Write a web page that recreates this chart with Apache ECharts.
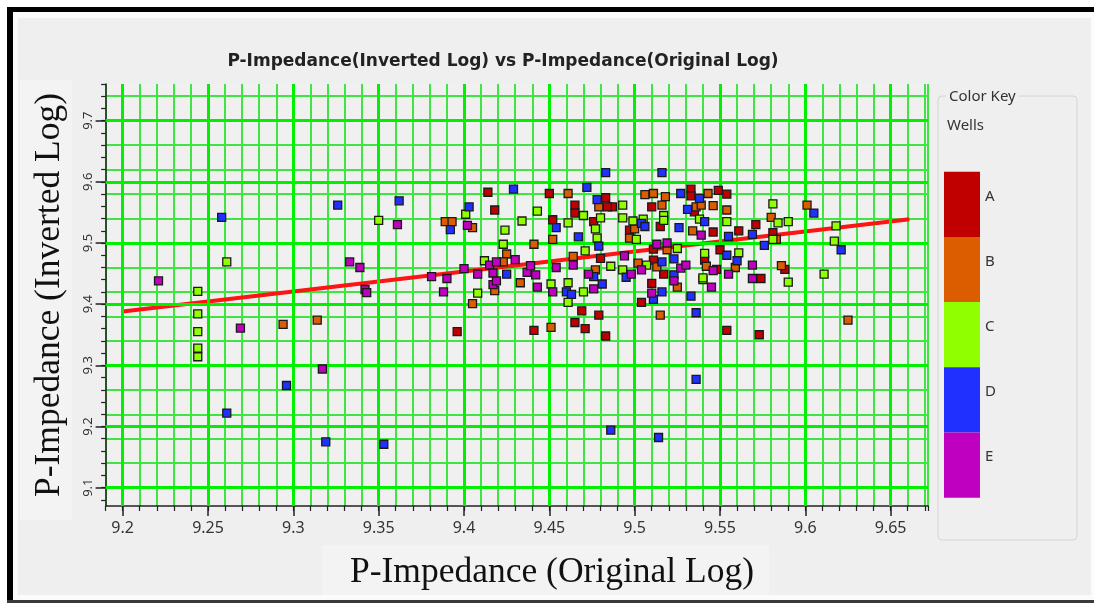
<!DOCTYPE html>
<html><head><meta charset="utf-8">
<script src="https://cdn.jsdelivr.net/npm/echarts@6/dist/echarts.min.js"></script>
<style>html,body{margin:0;padding:0;background:#fff}#c{width:1094px;height:603px}</style>
</head><body><div id="c"></div>
<script>
const chartTitle = 'P-Impedance(Inverted Log) vs P-Impedance(Original Log)';
const xTitle = 'P-Impedance (Original Log)';
const yTitle = 'P-Impedance (Inverted Log)';
const wells = ['A', 'B', 'C', 'D', 'E'];
const wellColors = ['#c00000', '#dc5c00', '#90ff00', '#2030ff', '#c000c0'];

const wellA = [[9.396,9.355],[9.469,9.389],[9.479,9.382],[9.465,9.370],[9.471,9.360],[9.483,9.348],[9.441,9.357],
  [9.510,9.434],[9.504,9.403],[9.554,9.357],[9.573,9.350],[9.533,9.588],[9.533,9.577],[9.549,9.586],[9.554,9.580],
  [9.510,9.559],[9.535,9.551],[9.515,9.527],[9.546,9.518],[9.561,9.520],[9.571,9.530],[9.581,9.517],[9.588,9.457],
  [9.574,9.442],[9.550,9.489],[9.541,9.472],[9.548,9.457],[9.414,9.583],[9.418,9.554],[9.450,9.581],[9.465,9.562],
  [9.465,9.549],[9.452,9.538],[9.483,9.574],[9.487,9.559],[9.484,9.559],[9.476,9.535],[9.497,9.521],[9.480,9.475],
  [9.511,9.472],[9.517,9.449],[9.511,9.490]];
const wellB = [[9.294,9.367],[9.314,9.374],[9.405,9.401],[9.418,9.422],[9.433,9.435],[9.451,9.362],[9.515,9.382],
  [9.525,9.428],[9.625,9.374],[9.506,9.579],[9.511,9.581],[9.518,9.576],[9.543,9.581],[9.516,9.562],[9.536,9.559],
  [9.539,9.562],[9.546,9.561],[9.554,9.554],[9.534,9.520],[9.583,9.506],[9.580,9.542],[9.601,9.562],[9.586,9.463],
  [9.559,9.460],[9.542,9.462],[9.389,9.535],[9.393,9.535],[9.405,9.525],[9.441,9.498],[9.461,9.581],[9.479,9.559],
  [9.500,9.523],[9.497,9.508],[9.452,9.506],[9.464,9.478],[9.502,9.467],[9.513,9.461],[9.477,9.456],[9.425,9.482],
  [9.423,9.469],[9.519,9.489]];
const wellC = [[9.350,9.537],[9.261,9.469],[9.244,9.421],[9.244,9.384],[9.244,9.355],[9.244,9.328],[9.244,9.314],
  [9.408,9.418],[9.451,9.433],[9.461,9.435],[9.461,9.403],[9.470,9.420],[9.540,9.440],[9.590,9.436],[9.517,9.545],
  [9.517,9.537],[9.538,9.539],[9.554,9.535],[9.581,9.506],[9.581,9.564],[9.584,9.533],[9.590,9.535],[9.618,9.528],
  [9.617,9.503],[9.611,9.449],[9.541,9.483],[9.561,9.484],[9.540,9.443],[9.401,9.547],[9.424,9.521],[9.423,9.498],
  [9.443,9.552],[9.434,9.536],[9.461,9.533],[9.470,9.545],[9.480,9.541],[9.477,9.523],[9.493,9.562],[9.493,9.541],
  [9.499,9.536],[9.505,9.539],[9.501,9.506],[9.478,9.508],[9.471,9.487],[9.486,9.462],[9.493,9.456],[9.507,9.464],
  [9.412,9.471],[9.525,9.491]];
const wellD = [[9.258,9.542],[9.326,9.562],[9.296,9.267],[9.261,9.222],[9.319,9.175],[9.353,9.171],[9.460,9.420],
  [9.463,9.416],[9.481,9.433],[9.511,9.408],[9.516,9.420],[9.533,9.413],[9.536,9.386],[9.536,9.277],[9.486,9.194],
  [9.514,9.182],[9.516,9.615],[9.527,9.581],[9.538,9.573],[9.531,9.555],[9.541,9.535],[9.504,9.532],[9.506,9.527],
  [9.526,9.525],[9.555,9.511],[9.569,9.514],[9.576,9.496],[9.605,9.549],[9.621,9.489],[9.554,9.480],[9.560,9.471],
  [9.523,9.474],[9.516,9.469],[9.362,9.569],[9.429,9.588],[9.403,9.559],[9.392,9.522],[9.472,9.591],[9.483,9.615],
  [9.454,9.525],[9.478,9.571],[9.467,9.510],[9.479,9.495],[9.495,9.444],[9.476,9.445],[9.425,9.449],[9.523,9.448]];
const wellE = [[9.221,9.438],[9.333,9.469],[9.339,9.460],[9.342,9.424],[9.343,9.419],[9.269,9.361],[9.317,9.294],
  [9.388,9.420],[9.417,9.432],[9.419,9.438],[9.443,9.428],[9.452,9.420],[9.476,9.425],[9.510,9.418],[9.523,9.438],
  [9.545,9.428],[9.539,9.513],[9.569,9.464],[9.569,9.442],[9.555,9.449],[9.546,9.455],[9.361,9.530],[9.402,9.529],
  [9.494,9.479],[9.513,9.498],[9.519,9.500],[9.527,9.459],[9.530,9.464],[9.498,9.449],[9.504,9.456],[9.473,9.449],
  [9.437,9.452],[9.442,9.448],[9.415,9.464],[9.419,9.469],[9.430,9.473],[9.417,9.451],[9.381,9.445],[9.390,9.442],
  [9.400,9.458],[9.408,9.449],[9.439,9.463],[9.454,9.460],[9.464,9.464]];
const wellData = [wellA, wellB, wellC, wellD, wellE];

const fitLine = [[9.2, 9.388], [9.661, 9.539]];

const xTickLabels = [9.2, 9.25, 9.3, 9.35, 9.4, 9.45, 9.5, 9.55, 9.6, 9.65];
const yTickLabels = [9.1, 9.2, 9.3, 9.4, 9.5, 9.6, 9.7];
const xRange = [9.19, 9.672];
const yRange = [9.07, 9.76];

// minor y ticks every 0.02
const yMinorTicks = [];
for (let k = 454; k <= 488; k++) yMinorTicks.push(+(k * 0.02).toFixed(2));

const gridRect = {left: 105.6, top: 84, width: 822.6, height: 422};
const minorGreen = '#3fe63f';
const majorGreen = '#00f000';
const axisDark = '#222';
const uiFont = 'Noto Sans';

const chart = echarts.init(document.getElementById('c'), null, {renderer: 'canvas'});

const scatterSeries = wells.map((w, i) => ({
  type: 'scatter', name: w, xAxisIndex: 0, yAxisIndex: 0,
  data: wellData[i], symbol: 'rect', symbolSize: 8,
  itemStyle: {color: wellColors[i], borderColor: '#1a1a1a', borderWidth: 1.3, opacity: 1},
  emphasis: {disabled: true}, z: 5, animation: false
}));

const option = {
  backgroundColor: '#efefef',
  animation: false,
  title: {
    text: chartTitle, left: 498, top: 48, textAlign: 'center',
    textStyle: {fontFamily: 'DejaVu Sans', fontWeight: 'bold', fontSize: 17, color: '#222'}
  },
  legend: {
    data: wells, orient: 'vertical', left: 944, top: 171.7, padding: 0,
    itemWidth: 36, itemHeight: 65.2, itemGap: 0, icon: 'rect', selectedMode: false,
    itemStyle: {borderWidth: 0},
    formatter: '{a|{name}}',
    textStyle: {fontFamily: uiFont, fontSize: 15, color: '#333',
      rich: {a: {fontFamily: uiFont, fontSize: 15, color: '#333', padding: [0, 0, 16, 0]}}}
  },
  grid: [
    Object.assign({show: true, backgroundColor: '#f0f0f0', borderWidth: 0}, gridRect),
    Object.assign({show: false}, gridRect)
  ],
  xAxis: [{
    type: 'value', gridIndex: 0, min: xRange[0], max: xRange[1], interval: 0.01,
    axisLine: {show: true, onZero: false, lineStyle: {color: axisDark, width: 1.5}},
    axisTick: {show: true, length: 5, lineStyle: {color: axisDark, width: 1.2}},
    axisLabel: {customValues: xTickLabels, margin: 14, fontFamily: uiFont, fontSize: 16, color: '#333',
      formatter: v => String(+v.toFixed(2))},
    splitLine: {show: true, lineStyle: {color: minorGreen, width: 2}}
  }, {
    type: 'value', gridIndex: 1, min: xRange[0], max: xRange[1],
    axisLine: {show: false},
    axisTick: {show: true, customValues: xTickLabels, length: 10, lineStyle: {color: axisDark, width: 1.5}},
    axisLabel: {show: false}, splitLine: {show: false}
  }],
  yAxis: [{
    type: 'value', gridIndex: 0, min: yRange[0], max: yRange[1], interval: 0.01,
    axisLine: {show: true, onZero: false, lineStyle: {color: axisDark, width: 1.5}},
    axisTick: {show: true, customValues: yMinorTicks, length: 4.5, lineStyle: {color: axisDark, width: 1.2}},
    axisLabel: {customValues: yTickLabels, rotate: 90, margin: 11, fontFamily: uiFont, fontSize: 13, color: '#333',
      formatter: v => String(+v.toFixed(1))},
    splitLine: {show: true, lineStyle: {color: ['rgba(0,0,0,0)', minorGreen], width: 2}}
  }, {
    type: 'value', gridIndex: 1, min: yRange[0], max: yRange[1],
    axisLine: {show: false},
    axisTick: {show: true, customValues: yTickLabels, length: 10, lineStyle: {color: axisDark, width: 1.5}},
    axisLabel: {show: false}, splitLine: {show: false}
  }],
  series: [{
    type: 'line', name: 'major-grid', xAxisIndex: 0, yAxisIndex: 0, data: [], silent: true, z: 1,
    markLine: {
      silent: true, symbol: ['none', 'none'], label: {show: false}, animation: false,
      lineStyle: {color: majorGreen, width: 3, type: 'solid'}, emphasis: {disabled: true},
      data: xTickLabels.map(v => ({xAxis: v})).concat(yTickLabels.map(v => ({yAxis: v})))
    }
  }, {
    type: 'line', name: 'fit', xAxisIndex: 0, yAxisIndex: 0, data: fitLine, showSymbol: false,
    lineStyle: {color: '#ff1414', width: 4}, z: 4, silent: true, emphasis: {disabled: true}
  }].concat(scatterSeries),
  graphic: [
    {type: 'rect', shape: {x: 0, y: 0, width: 1094, height: 7}, style: {fill: '#fff'}, silent: true},
    {type: 'rect', shape: {x: 0, y: 0, width: 7, height: 603}, style: {fill: '#fff'}, silent: true},
    {type: 'rect', shape: {x: 7, y: 7, width: 1087, height: 5}, style: {fill: '#000'}, silent: true},
    {type: 'rect', shape: {x: 7, y: 7, width: 6, height: 596}, style: {fill: '#000'}, silent: true},
    {type: 'rect', shape: {x: 13, y: 12, width: 1081, height: 6}, style: {fill: '#fbfbfb'}, silent: true},
    {type: 'rect', shape: {x: 13, y: 12, width: 5, height: 588}, style: {fill: '#fbfbfb'}, silent: true},
    {type: 'rect', shape: {x: 1091, y: 12, width: 3, height: 588}, style: {fill: '#fbfbfb'}, silent: true},
    {type: 'rect', shape: {x: 13, y: 595, width: 1081, height: 5}, style: {fill: '#fbfbfb'}, silent: true},
    {type: 'rect', shape: {x: 7, y: 600, width: 1087, height: 3}, style: {fill: '#3a3a3a'}, silent: true},
    {type: 'rect', shape: {x: 20, y: 80, width: 52, height: 440}, style: {fill: '#f3f3f3'}, silent: true},
    {type: 'rect', shape: {x: 322, y: 545, width: 447, height: 50}, style: {fill: '#f3f3f3'}, silent: true},
    {type: 'text', x: 552, y: 573, silent: true,
      style: {text: xTitle, fontFamily: 'Liberation Serif', fontSize: 35.5, fill: '#111', align: 'center', verticalAlign: 'middle'}},
    {type: 'text', x: 50, y: 295, rotation: Math.PI / 2, silent: true,
      style: {text: yTitle, fontFamily: 'Liberation Serif', fontSize: 35.5, fill: '#111', align: 'center', verticalAlign: 'middle'}},
    {type: 'rect', shape: {x: 938, y: 96, width: 139, height: 444, r: 4}, silent: true,
      style: {fill: 'none', stroke: '#d4d4d4', lineWidth: 1}},
    {type: 'text', x: 946, y: 97, silent: true,
      style: {text: 'Color Key', fontFamily: uiFont, fontSize: 15, fill: '#333', verticalAlign: 'middle',
        backgroundColor: '#efefef', padding: [0, 3]}},
    {type: 'text', x: 947, y: 126, silent: true,
      style: {text: 'Wells', fontFamily: uiFont, fontSize: 15, fill: '#333', verticalAlign: 'middle'}}
  ]
};
chart.setOption(option);
</script>
</body></html>
